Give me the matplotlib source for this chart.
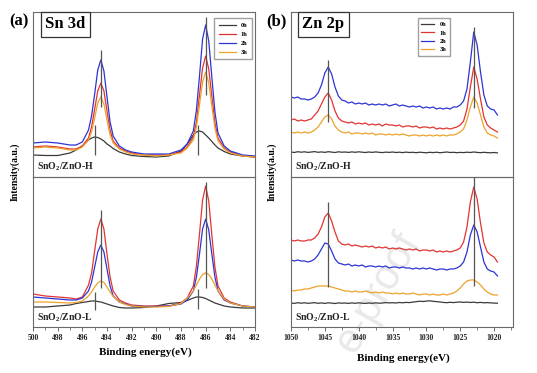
import numpy as np
import matplotlib
matplotlib.use('Agg')
import matplotlib.pyplot as plt
from matplotlib.ticker import MultipleLocator

plt.rcParams['font.family'] = ['Liberation Serif', 'DejaVu Serif']
plt.rcParams['font.weight'] = 'bold'
plt.rcParams['mathtext.fontset'] = 'custom'
plt.rcParams['mathtext.rm'] = 'Liberation Serif:bold'
plt.rcParams['mathtext.bf'] = 'Liberation Serif:bold'

# ---------------- data ----------------
labels = ['0h', '1h', '2h', '3h']

# Sn 3d binding energy grid
e_sn = [500, 499, 498, 497, 496.5, 496, 495.5, 495.25, 495, 494.75, 494.5, 494.25,
        494, 493.75, 493.5, 493, 492.5, 492, 491, 490, 489, 488, 487.5, 487,
        486.75, 486.5, 486.25, 486, 485.75, 485.5, 485.25, 485, 484.5, 484, 483, 482]

sn_h_0h = [22, 21.5, 21.5, 24, 27, 31, 37, 39, 40, 39.5, 38, 36,
           33, 31, 28.5, 25, 23, 21.5, 20.5, 20, 21, 26, 33, 42,
           45, 46, 45, 42, 39, 35.5, 32, 29, 25.5, 23, 21, 20]
sn_h_1h = [30, 31, 30, 28, 28, 31, 39, 50, 68, 86, 94, 86,
           66, 47, 36, 29, 26, 24, 22, 22, 22, 25, 30, 40,
           55, 82, 109, 121, 108, 81, 54, 39, 29, 25, 21, 20]
sn_h_2h = [34, 35, 34, 32, 32, 35, 47, 61, 83, 107, 117, 106,
           80, 55, 41, 31, 27, 25, 23, 23, 23, 27, 33, 46,
           67, 101, 138, 152, 136, 100, 65, 44, 31, 26, 22, 21]
sn_h_3h = [29, 30, 29, 27, 27, 30, 37, 45, 59, 74, 80, 73,
           57, 42, 34, 28, 25, 23, 22, 21, 22, 24, 29, 37,
           50, 72, 95, 105, 94, 71, 49, 36, 28, 24, 21, 20]

sn_l_0h = [20, 20, 21, 22, 23.5, 24.5, 25.5, 26, 26, 25.5, 25, 24,
           23, 22, 21, 19.5, 19, 19, 19.5, 21, 23.5, 24.5, 26.5, 29,
           30, 30, 29.5, 28.5, 27, 25.5, 24, 23, 21, 20, 19, 19]
sn_l_1h = [33, 31, 30, 29, 28, 30, 42, 54, 76, 98, 108, 98,
           73, 50, 36, 27, 24, 22, 21, 21, 21, 24, 29, 41,
           61, 93, 127, 141, 126, 92, 60, 41, 29, 25, 21, 20]
sn_l_2h = [30, 29, 28, 27, 27, 29, 36, 45, 60, 75, 82, 75,
           58, 41, 31, 25, 23, 21, 20.5, 20.5, 21, 23, 27, 36,
           50, 73, 98, 108, 97, 73, 50, 36, 27, 24, 21, 20]
sn_l_3h = [25, 25, 24.5, 24, 24.5, 26, 31, 35, 40, 44, 46, 44.5,
           40, 35, 30.5, 25, 22.5, 21, 20, 20, 20.5, 23.5, 29, 36,
           42, 48, 52.5, 54, 52.5, 48, 42, 36, 28, 24, 21, 20]

# Zn 2p binding energy grid (1050 -> 1019.5 in 0.5 eV)
e_zn = [1050, 1049.5, 1049, 1048.5, 1048, 1047.5, 1047, 1046.5, 1046, 1045.5,
        1045, 1044.5, 1044, 1043.5, 1043, 1042.5, 1042, 1041.5, 1041, 1040.5,
        1040, 1039.5, 1039, 1038.5, 1038, 1037.5, 1037, 1036.5, 1036, 1035.5,
        1035, 1034.5, 1034, 1033.5, 1033, 1032.5, 1032, 1031.5, 1031, 1030.5,
        1030, 1029.5, 1029, 1028.5, 1028, 1027.5, 1027, 1026.5, 1026, 1025.5,
        1025, 1024.5, 1024, 1023.5, 1023, 1022.5, 1022, 1021.5, 1021, 1020.5,
        1020, 1019.5]

zn_h_0h = [25, 24.5, 25.3, 24.8, 25.2, 24.6, 25, 25.4, 24.7, 25.1,
           24.6, 25.3, 24.9, 24.5, 25.2, 24.8, 25, 24.6, 25.1, 24.7,
           25.2, 24.8, 24.5, 25, 24.6, 25.1, 24.7, 24.4, 24.9, 24.6,
           25, 24.5, 24.8, 24.4, 24.9, 24.5, 24.7, 24.3, 24.8, 24.5,
           24.2, 24.7, 24.4, 24.8, 24.3, 24.6, 25, 24.5, 24.7, 24.3,
           24.6, 24.4, 24.8, 24.5, 25, 24.6, 24.3, 24.7, 24.4, 24.2,
           24.5, 24.1]
zn_h_1h = [57, 58, 56, 57, 56, 57, 58, 62, 66, 73,
           80, 84, 77, 66, 59, 56, 55, 54, 55, 53,
           54, 53, 54, 52, 53, 52, 53, 51, 53, 52,
           52, 51, 52, 50, 51, 51, 50, 51, 49, 50,
           50, 49, 50, 48, 49, 48, 49, 48, 49, 50,
           52, 56, 68, 90, 110, 98, 78, 60, 52, 49,
           47, 45]
zn_h_2h = [80, 79, 80, 78, 78, 77, 78, 80, 84, 92,
           104, 110, 103, 90, 81, 77, 76, 74, 75, 73,
           74, 73, 74, 72, 73, 72, 73, 72, 73, 71,
           72, 73, 71, 72, 71, 70, 71, 70, 71, 69,
           70, 69, 70, 68, 69, 68, 69, 68, 70, 70,
           72, 76, 88, 115, 145, 132, 105, 82, 71, 68,
           67, 62]
zn_h_3h = [45, 44, 45, 44, 45, 44, 45, 47, 50, 55,
           60, 62, 58, 51, 47, 45, 44, 45, 43, 44,
           44, 43, 44, 43, 44, 42, 43, 43, 42, 43,
           42, 43, 42, 43, 42, 41, 42, 42, 41, 42,
           41, 42, 41, 42, 41, 42, 41, 42, 42, 43,
           45, 48, 57, 70, 80, 74, 62, 50, 44, 42,
           41, 39]

zn_l_0h = [24, 23.6, 24.3, 23.8, 24.2, 23.7, 24, 24.3, 23.7, 24.1,
           23.6, 24.2, 23.9, 23.5, 24.1, 23.8, 24, 23.6, 24.1, 23.7,
           24.2, 23.8, 23.6, 24, 23.7, 24.2, 23.8, 24, 24.4, 24.1,
           24.3, 24, 24.5, 24.2, 24.6, 24.4, 24.9, 25.3, 25.8, 25.5,
           25.9, 26.2, 25.7, 25.4, 25, 24.6, 24.3, 24.7, 24.4, 24.8,
           25, 24.6, 24.9, 24.5, 24.8, 24.3, 24.6, 24.2, 24.4, 24.1,
           23.9, 23.8]
zn_l_1h = [87, 86, 87, 86, 86, 87, 87, 89, 93, 100,
           110, 114, 106, 95, 86, 83, 82, 83, 81, 82,
           81, 80, 81, 80, 81, 79, 80, 79, 80, 78,
           79, 78, 79, 78, 77, 78, 77, 78, 76, 77,
           77, 76, 77, 75, 76, 75, 76, 75, 76, 77,
           79, 85, 100, 125, 140, 128, 104, 84, 75, 72,
           70, 65]
zn_l_2h = [67, 66, 67, 66, 66, 65, 66, 68, 72, 78,
           84, 83, 76, 68, 64, 63, 62, 63, 61, 62,
           61, 62, 60, 61, 61, 60, 61, 60, 61, 59,
           60, 60, 59, 60, 59, 59, 58, 59, 58, 59,
           58, 59, 58, 57, 58, 58, 57, 58, 58, 59,
           61, 65, 75, 92, 102, 95, 80, 65, 58, 56,
           55, 51]
zn_l_3h = [37, 36, 37, 37, 38, 38, 39, 40, 41, 41,
           41, 41, 40, 39, 38, 37, 36, 36, 35, 36,
           35, 35, 36, 35, 34, 35, 34, 35, 34, 34,
           33, 34, 33, 34, 33, 33, 34, 33, 32, 33,
           33, 32, 33, 32, 32, 33, 32, 33, 34, 36,
           39, 43, 46, 47, 47, 45, 42, 38, 35, 33,
           32, 32]

# grey peak-position markers: x, lower end, upper end
sn_h_mark_x = [494.5, 486.0, 495.0, 486.6]
sn_h_mark_lo = [70, 82, 22, 22]
sn_h_mark_hi = [127, 160, 52, 52]
sn_l_mark_x = [494.5, 486.0, 495.0, 486.6]
sn_l_mark_lo = [39, 39, 17, 18]
sn_l_mark_hi = [117, 145, 35, 38]
zn_h_mark_x = [1044.5, 1023.0]
zn_h_mark_lo = [55, 69]
zn_h_mark_hi = [117, 150]
zn_l_mark_x = [1044.5, 1023.0]
zn_l_mark_lo = [40, 41]
zn_l_mark_hi = [125, 150]

colors = ['#3a3a3a', '#e2342f', '#2c34d6', '#eda22a']
mark_col = '#555555'
spine_col = '#6a6a6a'

fig = plt.figure(figsize=(5.37, 3.73), dpi=100)

W, H = 537.0, 373.0
def box(x0, y0, x1, y1):
    return [x0 / W, 1 - y1 / H, (x1 - x0) / W, (y1 - y0) / H]

ax_a1 = fig.add_axes(box(33, 12, 255, 177))
ax_a2 = fig.add_axes(box(33, 177, 255, 327))
ax_b1 = fig.add_axes(box(291, 12, 513, 177))
ax_b2 = fig.add_axes(box(291, 177, 513, 327))

panels = [
    (ax_a1, e_sn, [sn_h_0h, sn_h_1h, sn_h_2h, sn_h_3h], sn_h_mark_x, sn_h_mark_lo, sn_h_mark_hi, 165, r'SnO$_\mathbf{2}$/ZnO-H'),
    (ax_a2, e_sn, [sn_l_0h, sn_l_1h, sn_l_2h, sn_l_3h], sn_l_mark_x, sn_l_mark_lo, sn_l_mark_hi, 150, r'SnO$_\mathbf{2}$/ZnO-L'),
    (ax_b1, e_zn, [zn_h_0h, zn_h_1h, zn_h_2h, zn_h_3h], zn_h_mark_x, zn_h_mark_lo, zn_h_mark_hi, 165, r'SnO$_\mathbf{2}$/ZnO-H'),
    (ax_b2, e_zn, [zn_l_0h, zn_l_1h, zn_l_2h, zn_l_3h], zn_l_mark_x, zn_l_mark_lo, zn_l_mark_hi, 150, r'SnO$_\mathbf{2}$/ZnO-L'),
]

for ax, ex, ys, mx, mlo, mhi, top, name in panels:
    ax.patch.set_alpha(0)
    for y, c, lab in zip(ys, colors, labels):
        ax.plot(ex, y, color=c, lw=0.9, label=lab)
    ax.vlines(mx, mlo, mhi, color=mark_col, lw=0.9, zorder=5)
    ax.set_ylim(0, top)
    ax.set_yticks([])
    for s in ax.spines.values():
        s.set_color(spine_col)
        s.set_linewidth(0.8)
    ax.text(0.02, 0.065, name, transform=ax.transAxes, fontsize=7,
            fontweight='bold', va='center', ha='left', color='#222222')

for ax in (ax_a1, ax_a2):
    ax.set_xlim(500, 482)
    ax.xaxis.set_major_locator(MultipleLocator(2))
    ax.xaxis.set_minor_locator(MultipleLocator(1))
for ax in (ax_b1, ax_b2):
    ax.set_xlim(1050, 1017.2)
    ax.xaxis.set_major_locator(MultipleLocator(5))
    ax.xaxis.set_minor_locator(MultipleLocator(2.5))

for ax in (ax_a1, ax_b1):
    ax.tick_params(axis='x', which='both', bottom=False, labelbottom=False)
for ax in (ax_a2, ax_b2):
    ax.tick_params(axis='x', which='major', direction='out', length=3, width=0.7,
                   colors=spine_col, labelsize=5.5, labelcolor='#222222', pad=2)
    ax.tick_params(axis='x', which='minor', direction='out', length=1.8, width=0.6,
                   colors=spine_col)
    for t in ax.get_xticklabels():
        t.set_fontweight('bold')

# legends
ax_a1.legend(loc='upper right', bbox_to_anchor=(0.986, 0.964), fontsize=4.6,
             frameon=True, fancybox=False, edgecolor='#888888', handlelength=2.6,
             labelspacing=0.55, borderpad=0.7, handletextpad=0.8, borderaxespad=0)
ax_b1.legend(loc='upper right', bbox_to_anchor=(0.716, 0.964), fontsize=4.6,
             frameon=True, fancybox=False, edgecolor='#888888', handlelength=2.0,
             labelspacing=0.45, borderpad=0.6, handletextpad=0.8, borderaxespad=0)

# element boxes
for ax, t in ((ax_a1, 'Sn 3d'), (ax_b1, 'Zn 2p')):
    ax.text(0.146, 0.925, t, transform=ax.transAxes, fontsize=12, fontweight='bold',
            ha='center', va='center',
            bbox=dict(boxstyle='square,pad=0.25', fc='white', ec='#333333', lw=0.9))

fig.text(19 / W, 1 - 21 / H, '(a)', fontsize=12, fontweight='bold', ha='center', va='center')
fig.text(276 / W, 1 - 21 / H, '(b)', fontsize=12, fontweight='bold', ha='center', va='center')

fig.text(15 / W, 1 - 172 / H, 'Intensity(a.u.)', rotation=90, fontsize=7,
         fontweight='bold', ha='center', va='center')
fig.text(272 / W, 1 - 172 / H, 'Intensity(a.u.)', rotation=90, fontsize=7,
         fontweight='bold', ha='center', va='center')
fig.text(145 / W, 1 - 352 / H, 'Binding energy(eV)', fontsize=8, fontweight='bold',
         ha='center', va='center')
fig.text(403 / W, 1 - 358 / H, 'Binding energy(eV)', fontsize=8, fontweight='bold',
         ha='center', va='center')

# faint watermark (only its tail is visible in the figure)
fig.text(411 / W, 1 - 236 / H, 'e-proof', rotation=60, rotation_mode='anchor',
         fontsize=30, color='#e9e9e9', ha='right', va='center', zorder=-1,
         fontfamily=['Liberation Sans', 'DejaVu Sans'], fontweight='normal')

fig.savefig('out.png', dpi=100)
